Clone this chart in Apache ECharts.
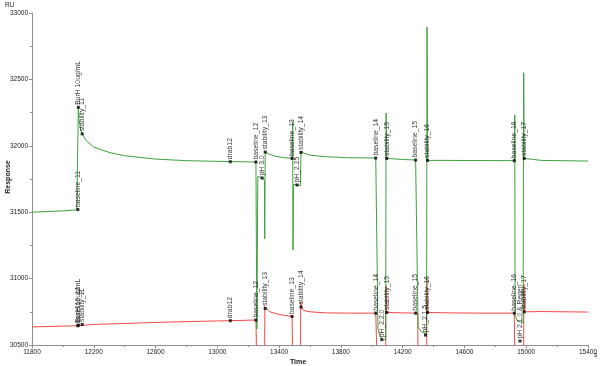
<!DOCTYPE html>
<html><head><meta charset="utf-8">
<script src="https://cdn.jsdelivr.net/npm/echarts@6/dist/echarts.min.js"></script>
<style>html,body{margin:0;padding:0;background:#fff}#c{width:600px;height:366px}</style>
</head><body><div id="c"></div>
<script>
// Green sensorgram (time s, response RU)
const greenX = [11800,11900,12000,12090,12097,12100,12104,12115,12125,12150,12200,12300,12400,12600,12800,13000,13250,
  13256,13262,13290,13305,13307,13310,13340,13380,13440,13484,13488,13490,13494,13516,13538,13542,13560,13600,13700,13850,14026,
  14034,14040,14055,14075,14090,14093,14097,14200,14284,14290,14300,14320,14340,14355,14358,14361,14500,14700,14923,
  14926,14928,14945,14965,14980,14984,14987,15100,15400];
const greenY = [31500,31505,31510,31518,31520,32290,32200,32120,32090,32040,31990,31950,31925,31900,31888,31883,31878,
  30620,31770,31758,31740,31300,31953,31935,31920,31910,31905,32180,31215,31710,31705,31700,31960,31945,31930,31918,31910,31908,
  31900,30620,30560,30540,30540,32247,31905,31897,31893,31890,30640,30600,30590,30590,32895,31890,31890,31889,31888,
  32232,30720,30680,30673,30670,32550,31905,31890,31885];
// Red sensorgram
const redX = [11800,12000,12097,12100,12200,12400,12600,12800,13000,13250,13256,13258,13305,13308,13315,13340,13400,13484,
  13488,13490,13538,13540,13545,13560,13600,13700,13850,14026,14036,14038,14090,14092,14097,14200,14284,14298,14300,14355,
  14357,14361,14500,14700,14923,14926,14928,14983,14985,14990,15100,15400];
const redY = [30636,30642,30645,30655,30655,30662,30670,30676,30681,30688,30688,30200,30200,30790,30775,30750,30730,30715,
  30715,30200,30200,30825,30786,30760,30750,30742,30740,30740,30740,30200,30200,30950,30745,30742,30740,30740,30200,30200,
  31000,30745,30742,30740,30740,30740,30200,30200,30960,30750,30752,30748];
// Report-point labels
const gLabelNames = ['baseline_11','BurH 10ug/mL','stability_11','drab12','baseline_12','pH 3.0','stability_13','baseline_13','pH_2.25','stability_14','baseline_14','pH_2.2.0','stability_15','baseline_15','pH_2.1.5','stability_16','baseline_16','pH 2.1.0 & Regen','stability_17'];
const gLabelX = [12097,12100,12125,13084,13250,13290,13310,13484,13516,13542,14026,14065,14097,14284,14348,14361,14923,14960,14987];
const gLabelY = [31520,32290,32090,31880,31878,31758,31953,31905,31705,31950,31908,30540,31905,31893,30575,31890,31888,30530,31905];
const rLabelNames = ['baseline_11','BurH 10ug/mL','stability_11','drab12','baseline_12','stability_13','baseline_13','stability_14','baseline_14','stability_15','baseline_15','stability_16','baseline_16','stability_17'];
const rLabelX = [12097,12100,12125,13084,13250,13310,13484,13542,14026,14097,14284,14361,14923,14987];
const rLabelY = [30645,30650,30655,30683,30688,30775,30715,30786,30740,30745,30740,30745,30740,30750];

const FONT = 'Liberation Sans, Arial, sans-serif';
const zip = (xs, ys) => xs.map((x, i) => [x, ys[i]]);
const labelSeries = (names, xs, ys) => ({
  type: 'scatter', symbol: 'rect', symbolSize: 3, itemStyle: {color: '#000'}, z: 5,
  data: names.map((n, i) => ({value: [xs[i], ys[i]], name: n})),
  label: {show: true, formatter: p => p.name, position: 'top', distance: 1, rotate: 90,
    align: 'left', verticalAlign: 'middle', fontSize: 6.8, fontFamily: FONT, color: '#000'},
  silent: true, animation: false
});

const chart = echarts.init(document.getElementById('c'), null, {renderer: 'canvas'});
chart.setOption({
  animation: false,
  backgroundColor: '#fff',
  grid: {left: 32, right: 10, top: 13, bottom: 21, containLabel: false},
  xAxis: {type: 'value', min: 11800, max: 15400, interval: 400,
    axisLine: {lineStyle: {color: '#909090'}}, axisTick: {length: 3, lineStyle: {color: '#909090'}},
    minorTick: {show: true, splitNumber: 2, length: 2, lineStyle: {color: '#909090'}},
    splitLine: {show: false},
    axisLabel: {fontSize: 6.5, fontFamily: FONT, color: '#222', margin: 4, formatter: v => String(v)}},
  yAxis: {type: 'value', min: 30500, max: 33000, interval: 500,
    axisLine: {show: true, lineStyle: {color: '#909090'}}, axisTick: {show: true, length: 3, lineStyle: {color: '#909090'}},
    minorTick: {show: true, splitNumber: 2, length: 2, lineStyle: {color: '#909090'}},
    splitLine: {show: false},
    axisLabel: {fontSize: 6.5, fontFamily: FONT, color: '#222', margin: 4, formatter: v => String(v)}},
  graphic: [
    {type: 'text', left: 5, top: 2, style: {text: 'RU', fontSize: 6.5, fontFamily: FONT, fill: '#222'}},
    {type: 'text', left: 594, top: 352, style: {text: 's', fontSize: 6.5, fontFamily: FONT, fill: '#222'}},
    {type: 'text', x: 298, y: 362, style: {text: 'Time', fontSize: 7, fontWeight: 'bold', fontFamily: FONT, fill: '#222', align: 'center', verticalAlign: 'middle'}},
    {type: 'text', x: 8, y: 177, rotation: Math.PI / 2, style: {text: 'Response', fontSize: 7, fontWeight: 'bold', fontFamily: FONT, fill: '#222', align: 'center', verticalAlign: 'middle'}}
  ],
  series: [
    {type: 'line', data: zip(redX, redY), showSymbol: false, clip: true, lineStyle: {color: '#f24848', width: 1}, z: 2},
    {type: 'line', data: zip(greenX, greenY), showSymbol: false, clip: true, lineStyle: {color: '#3fa03f', width: 1}, z: 3},
    labelSeries(gLabelNames, gLabelX, gLabelY),
    labelSeries(rLabelNames, rLabelX, rLabelY)
  ]
});
</script></body></html>
